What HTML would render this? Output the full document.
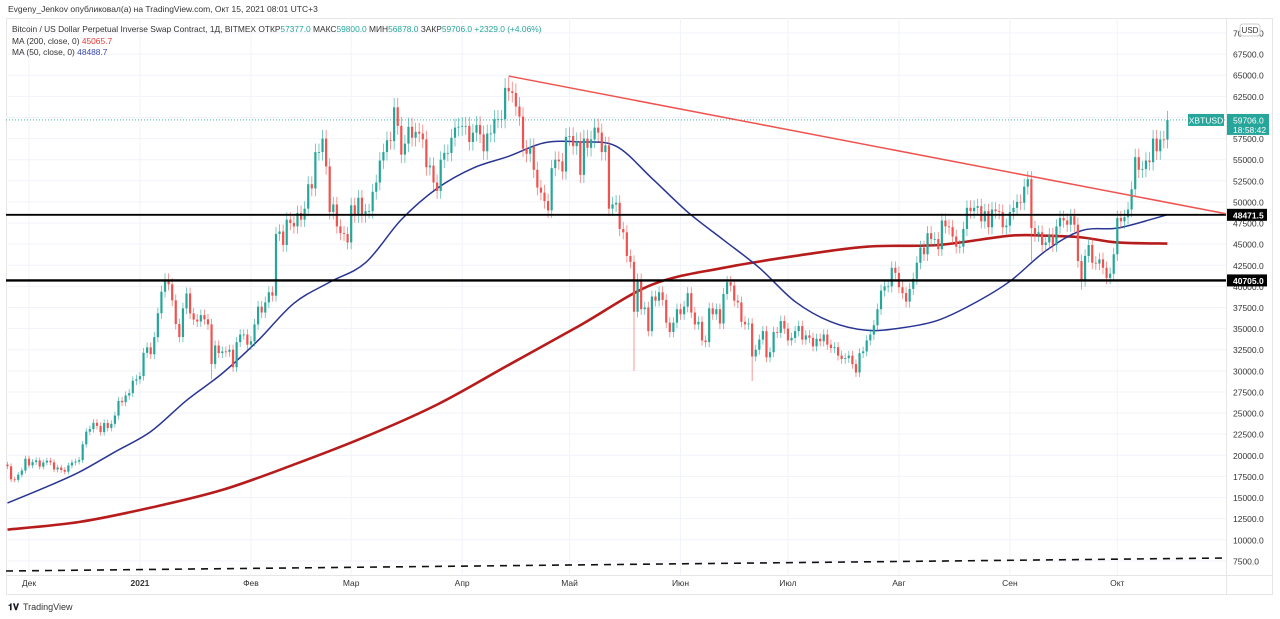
<!DOCTYPE html>
<html><head><meta charset="utf-8">
<style>
html,body{margin:0;padding:0;background:#fff;width:1280px;height:619px;overflow:hidden;font-family:"Liberation Sans","DejaVu Sans",sans-serif;}
svg text{font-family:"Liberation Sans","DejaVu Sans",sans-serif;}
</style></head>
<body>
<svg id="chart" width="1280" height="619" viewBox="0 0 1280 619" xmlns="http://www.w3.org/2000/svg">
<text x="8" y="12" font-size="8.5" fill="#333">Evgeny_Jenkov опубликовал(а) на TradingView.com, Окт 15, 2021 08:01 UTC+3</text>
<rect x="6.5" y="18.5" width="1266" height="576" fill="none" stroke="#e6e6e6"/>
<g id="grid"></g>
<line x1="6" y1="575.5" x2="1272" y2="575.5" stroke="#e6e6e6"/>
<line x1="1226.5" y1="18" x2="1226.5" y2="594" stroke="#e6e6e6"/>
<g id="ylabels"></g>
<g id="xlabels"></g>
<g id="marks"></g>
<g font-size="8.4">
<text x="12" y="32" fill="#333">Bitcoin / US Dollar Perpetual Inverse Swap Contract, 1Д, BITMEX  ОТКР<tspan fill="#26a69a">57377.0</tspan>  МАКС<tspan fill="#26a69a">59800.0</tspan>  МИН<tspan fill="#26a69a">56878.0</tspan>  ЗАКР<tspan fill="#26a69a">59706.0</tspan>  <tspan fill="#26a69a">+2329.0 (+4.06%)</tspan></text>
<text x="12" y="44" fill="#333">MA (200, close, 0)  <tspan fill="#e53935">45065.7</tspan></text>
<text x="12" y="55" fill="#333">MA (50, close, 0)  <tspan fill="#3949ab">48488.7</tspan></text>
</g>
<g>
<text x="8" y="610" font-size="9" font-weight="bold" fill="#131722">𝟏𝐕</text>
<text x="23" y="610" font-size="9" fill="#333">TradingView</text>
</g>
</svg>
<script>
// Daily closes (thousands USD), Nov 25 2020 .. Oct 15 2021
const closes=[18.7,17.15,17.1,17.7,18.2,19.6,
18.8,19.2,19.4,18.65,19.15,19.36,19.17,18.32,18.55,18.26,18.06,18.8,19.14,19.25,19.43,21.3,22.8,23.1,23.85,23.48,22.75,23.82,23.24,23.73,24.7,26.44,26.28,27.08,27.36,28.84,29.0,
29.37,32.13,32.78,31.97,33.99,36.82,39.37,40.8,40.25,38.35,35.54,34.0,37.39,39.16,36.8,36.07,35.84,36.6,36.1,35.5,30.8,33.0,32.1,32.3,32.25,32.5,30.43,33.4,34.3,34.3,33.1,
33.5,35.5,37.6,36.9,38.1,39.3,38.9,46.2,46.5,44.9,47.9,47.5,47.1,48.7,47.9,49.2,52.1,51.6,55.9,55.9,57.5,54.2,48.8,49.7,47.1,46.3,46.2,45.2,
49.6,48.4,50.5,48.4,48.9,48.9,51.2,52.3,54.9,55.9,57.3,57.2,61.2,59.0,55.6,56.9,58.9,57.6,58.3,58.1,57.4,54.1,54.3,52.3,51.3,55.0,55.8,55.8,57.6,58.8,58.9,
59.0,59.0,57.1,58.2,59.1,58.0,56.0,58.1,58.1,59.8,59.8,59.8,63.5,63.1,62.9,61.3,60.1,56.3,55.7,56.5,53.8,51.7,51.1,50.1,49.0,54.0,55.0,54.8,53.6,57.7,
57.8,56.6,57.2,53.2,57.5,56.4,57.4,58.8,58.2,55.9,56.7,49.2,49.7,49.9,46.8,46.4,43.6,42.9,37.0,40.8,37.3,37.5,34.7,38.8,38.3,39.3,38.4,35.7,34.6,35.7,37.3,
36.7,37.6,39.2,36.9,35.5,35.8,33.6,33.4,37.4,36.7,37.3,35.6,39.1,40.5,40.1,38.3,38.1,35.8,35.5,35.6,31.7,32.5,33.7,34.7,31.6,32.2,34.6,34.5,35.9,35.0,
33.6,33.9,34.7,35.3,33.7,34.2,33.9,32.9,33.8,33.5,34.3,33.1,32.7,32.8,31.8,31.4,31.5,31.8,30.8,29.8,32.1,32.3,33.6,34.3,35.4,37.3,39.5,40.0,40.0,42.2,41.6,
39.9,39.2,38.2,39.7,40.9,42.8,44.6,43.8,46.3,45.6,45.6,44.4,47.8,47.1,47.0,45.9,44.7,44.7,46.8,49.3,48.9,49.3,49.5,47.7,48.9,47.0,49.1,48.9,48.8,47.0,47.2,
48.8,49.3,50.0,49.9,51.8,52.7,46.9,46.1,46.4,44.9,45.2,46.1,44.9,47.1,48.1,47.8,47.3,48.3,47.3,43.0,40.7,43.6,44.9,42.8,42.7,43.2,42.2,41.0,41.5,43.8,
48.1,47.7,48.2,49.1,51.5,55.3,53.8,53.9,54.9,54.7,57.5,56.0,57.4,57.377,59.706];
// notable long wicks: [day index, extreme price]
const wickIdx=[57,140,175,208,286,300,320];
const wickVal=[29.0,64.8,30.0,28.8,43.0,39.6,56.8];
// MA series samples (day index, value in thousands)
const ma50Idx=[0,10,20,30,40,50,60,70,80,90,100,110,120,130,140,150,160,170,180,190,200,210,220,230,240,250,260,270,280,290,300,310,320,324];
const ma50Val=[14.35,16.1,18.0,20.4,22.8,26.5,29.7,33.6,38.0,40.5,42.8,47.9,51.6,54.0,55.4,57.0,57.1,56.6,52.8,48.8,45.5,42.2,38.2,35.8,34.8,35.1,36.0,38.0,40.6,44.2,46.6,46.9,48.0,48.49];
const ma200Idx=[0,20,40,60,80,100,120,140,160,180,200,220,240,260,280,290,300,310,324];
const ma200Val=[11.2,12.1,13.8,15.9,18.9,22.2,26.0,30.7,35.4,40.2,42.2,43.6,44.7,44.9,46.0,46.0,45.8,45.2,45.07];
const yTicks=[7500,10000,12500,15000,17500,20000,22500,25000,27500,30000,32500,35000,37500,40000,42500,45000,47500,50000,52500,55000,57500,60000,62500,65000,67500,70000];
const monthLabels=["Дек","2021","Фев","Мар","Апр","Май","Июн","Июл","Авг","Сен","Окт"];
const monthStartIdx=[6,37,68,96,127,157,188,218,249,280,310];
const levels=[48471.5,40705.0];

const NS="http://www.w3.org/2000/svg";
const X=i=>7.5+i*3.58;
const Y=p=>33+(70000-p)/118.4;
function el(tag,attrs,parent){const e=document.createElementNS(NS,tag);for(const k in attrs)e.setAttribute(k,attrs[k]);parent.appendChild(e);return e;}
const grid=document.getElementById('grid'),yl=document.getElementById('ylabels'),xl=document.getElementById('xlabels'),marks=document.getElementById('marks');

yTicks.forEach(t=>{
  const y=Y(t);
  const g=el('line',{x1:6,x2:1226,y1:y,y2:y,stroke:'#f0f3fa'},grid);
  
  
  const tx=el('text',{x:1233,y:y+3.5,'font-size':8.5,fill:'#333'},yl);
  tx.textContent=t.toFixed(1);
  
  
});
monthStartIdx.forEach((d,k)=>{
  const x=X(d);
  const g=el('line',{x1:x,x2:x,y1:18,y2:575,stroke:'#f0f3fa'},grid);
  
  
  const tx=el('text',{x:x,y:586,'font-size':8.5,fill:'#333','text-anchor':'middle','font-weight':k==1?'bold':'normal'},xl);
  tx.textContent=monthLabels[k];
  
  
});

// bottom dashed trendline & last price dotted line
const dl=el('line',{x1:6,y1:571,x2:1226,y2:558,stroke:'#111','stroke-width':1.6,'stroke-dasharray':'7,6'},marks);


const lp=closes[closes.length-1]*1000;
const pl=el('line',{x1:6,y1:Y(lp),x2:1226,y2:Y(lp),stroke:'#26a69a','stroke-width':0.8,'stroke-dasharray':'1,2'},marks);



// MA lines (smooth through samples)
function path(idx,val){let pts=idx.map((d,k)=>[X(d),Y(val[k]*1000)]);let s='M'+pts[0][0]+','+pts[0][1];
  for(let k=1;k<pts.length;k++){const p0=pts[Math.max(0,k-2)],p1=pts[k-1],p2=pts[k],p3=pts[Math.min(pts.length-1,k+1)];
  s+=' C'+(p1[0]+(p2[0]-p0[0])/6)+','+(p1[1]+(p2[1]-p0[1])/6)+' '+(p2[0]-(p3[0]-p1[0])/6)+','+(p2[1]-(p3[1]-p1[1])/6)+' '+p2[0]+','+p2[1];}return s;}
const m200=el('path',{d:path(ma200Idx,ma200Val),fill:'none',stroke:'#b71c1c','stroke-width':2.6},marks);


const m50=el('path',{d:path(ma50Idx,ma50Val),fill:'none',stroke:'#283593','stroke-width':1.5},marks);



// candles
for(let i=0;i<closes.length;i++){
  const c=closes[i]*1000,o=(i?closes[i-1]:18.9)*1000;
  let hi=Math.max(o,c)*1.018,lo=Math.min(o,c)*0.982;
  const w=wickIdx.indexOf(i);
  if(w>=0){const v=wickVal[w]*1000;if(v>hi)hi=v;if(v<lo)lo=v;}
  const up=c>=o,col=up?'#26a69a':'#ef5350',x=X(i);
  const g=el('g',{},marks);
  
  
  el('line',{x1:x,x2:x,y1:Y(hi),y2:Y(lo),stroke:col,'stroke-width':0.8,opacity:0.75},g);
  const yt=Y(Math.max(o,c)),yb=Y(Math.min(o,c));
  el('rect',{x:x-1.1,y:yt,width:2.2,height:Math.max(0.8,yb-yt),fill:col},g);
}

// horizontal levels
levels.forEach((v,k)=>{
  const y=Y(v);
  const l=el('line',{x1:6,x2:1226,y1:y,y2:y,stroke:'#000','stroke-width':k?2.4:1.8},marks);
  
  
  const r=el('rect',{x:1227,y:y-6,width:40,height:12,fill:'#000'},marks);
  
  
  const t=el('text',{x:1233,y:y+3.5,'font-size':8.5,fill:'#fff','font-weight':'bold'},marks);
  t.textContent=v.toFixed(1);
  
  
});

// descending trendline from the April high
const tl=el('line',{x1:X(140),y1:Y(64900),x2:1226,y2:Y(48600),stroke:'#ef5350','stroke-width':1.5},marks);



// last price badges
const ly=Y(lp);
const b1=el('rect',{x:1188,y:ly-6,width:36,height:12,fill:'#26a69a'},marks);


const t1=el('text',{x:1206,y:ly+3.5,'font-size':8.5,fill:'#fff','text-anchor':'middle'},marks);
t1.textContent='XBTUSD';


const b2=el('rect',{x:1227,y:ly-6,width:42,height:21,fill:'#26a69a'},marks);


const t2=el('text',{x:1233,y:ly+3.5,'font-size':8.5,fill:'#fff'},marks);
t2.textContent=lp.toFixed(1);


const t3=el('text',{x:1233,y:ly+13,'font-size':8.5,fill:'#fff'},marks);
t3.textContent='18:58:42';


// USD currency button
const ub=el('rect',{x:1240,y:24,width:20,height:12,rx:3,fill:'#fff',stroke:'#ccc'},marks);


const ut=el('text',{x:1250,y:33,'font-size':8,fill:'#333','text-anchor':'middle'},marks);
ut.textContent='USD';


</script>
</body></html>
